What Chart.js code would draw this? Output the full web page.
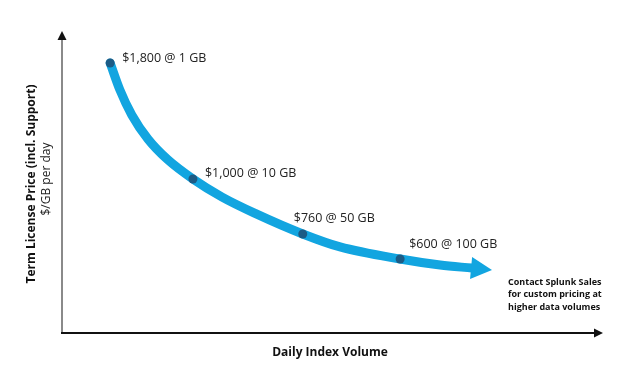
<!DOCTYPE html>
<html>
<head>
<meta charset="utf-8">
<script src="https://cdn.jsdelivr.net/npm/chart.js@4"></script>
<style>
  html, body { margin: 0; padding: 0; background: #fff; }
  #wrap { width: 625px; height: 390px; }
</style>
</head>
<body>
<div id="wrap"><canvas id="priceChart"></canvas></div>
<script>
// price points (labels) and where they sit on the sketch (axis units 0-100)
const prices = ['$1,800', '$1,000', '$760', '$600'];
const volumes = ['1 GB', '10 GB', '50 GB', '100 GB'];
const dotX = [8.9, 24.2, 44.5, 62.5];
const dotY = [89.4, 51.0, 32.8, 24.5];
// the drawn curve, ending at the arrow head
const curveX = [8.9, 10.7, 12.9, 15.9, 19.6, 24.2, 29.6, 35.7, 44.5, 51.4, 62.5, 69.9, 75.8];
const curveY = [89.4, 80.5, 72.2, 64.2, 57.3, 51.0, 45.0, 39.6, 32.8, 28.5, 24.5, 22.5, 21.5];

const labelOffsets = [[12, -5], [12, -6], [-9, -16], [9, -15]];
const FONT = '"Open Sans", sans-serif';

const curve = curveX.map((x, i) => ({ x, y: curveY[i] }));
const dots = dotX.map((x, i) => ({ x, y: dotY[i] }));

const decorations = {
    id: 'decorations',
    afterDatasetsDraw(chart) {
        const { ctx, chartArea: a, scales: { x, y } } = chart;
        ctx.save();

        // arrow head at end of curve
        const p1 = curve[curve.length - 2], p2 = curve[curve.length - 1];
        const bx = x.getPixelForValue(p2.x), by = y.getPixelForValue(p2.y);
        const ang = Math.atan2(by - y.getPixelForValue(p1.y), bx - x.getPixelForValue(p1.x));
        ctx.translate(bx, by);
        ctx.rotate(ang);
        ctx.fillStyle = '#12a5e0';
        ctx.beginPath();
        ctx.moveTo(20, 0);
        ctx.lineTo(-1, -11);
        ctx.lineTo(-1, 11);
        ctx.closePath();
        ctx.fill();
        ctx.setTransform(1, 0, 0, 1, 0, 0);

        // dots on top of the arrow body
        ctx.fillStyle = '#1c5b85';
        dots.forEach(d => {
            ctx.beginPath();
            ctx.arc(x.getPixelForValue(d.x), y.getPixelForValue(d.y), 4.5, 0, Math.PI * 2);
            ctx.fill();
        });

        // point labels
        ctx.fillStyle = '#222';
        ctx.font = '12.5px ' + FONT;
        ctx.textBaseline = 'middle';
        ctx.textAlign = 'left';
        dots.forEach((d, i) => {
            ctx.fillText(prices[i] + ' @ ' + volumes[i],
                x.getPixelForValue(d.x) + labelOffsets[i][0],
                y.getPixelForValue(d.y) + labelOffsets[i][1]);
        });

        // axes
        ctx.lineWidth = 2;
        ctx.strokeStyle = '#8a8a8a';
        ctx.beginPath();
        ctx.moveTo(a.left, a.bottom + 1);
        ctx.lineTo(a.left, a.top + 6);
        ctx.stroke();
        ctx.strokeStyle = '#111';
        ctx.beginPath();
        ctx.moveTo(a.left - 1, a.bottom);
        ctx.lineTo(a.right - 6, a.bottom);
        ctx.stroke();
        ctx.fillStyle = '#111';
        ctx.beginPath();
        ctx.moveTo(a.left, a.top);
        ctx.lineTo(a.left - 4.5, a.top + 9);
        ctx.lineTo(a.left + 4.5, a.top + 9);
        ctx.closePath();
        ctx.fill();
        ctx.beginPath();
        ctx.moveTo(a.right, a.bottom);
        ctx.lineTo(a.right - 9, a.bottom - 4.5);
        ctx.lineTo(a.right - 9, a.bottom + 4.5);
        ctx.closePath();
        ctx.fill();

        // axis titles
        ctx.textAlign = 'center';
        ctx.fillStyle = '#111';
        ctx.font = 'bold 12px ' + FONT;
        ctx.fillText('Daily Index Volume', 330, 353);
        ctx.save();
        ctx.translate(32, 184);
        ctx.rotate(-Math.PI / 2);
        ctx.fillText('Term License Price (incl. Support)', 0, 0);
        ctx.font = '12px ' + FONT;
        ctx.fillStyle = '#222';
        ctx.fillText('$/GB per day', 5, 15);
        ctx.restore();

        // note at the right
        ctx.textAlign = 'left';
        ctx.font = 'bold 9px ' + FONT;
        ctx.fillStyle = '#111';
        ['Contact Splunk Sales', 'for custom pricing at', 'higher data volumes']
            .forEach((t, i) => ctx.fillText(t, 508, 282 + i * 12.5));

        ctx.restore();
    }
};

new Chart(document.getElementById('priceChart'), {
    type: 'line',
    data: {
        datasets: [{
            data: curve,
            borderColor: '#12a5e0',
            borderWidth: 9,
            borderCapStyle: 'round',
            cubicInterpolationMode: 'monotone',
            pointRadius: 0,
            fill: false
        }]
    },
    options: {
        responsive: true,
        maintainAspectRatio: false,
        animation: false,
        layout: { padding: { left: 62, right: 22, top: 31, bottom: 57 } },
        plugins: { legend: { display: false }, tooltip: { enabled: false } },
        scales: {
            x: { type: 'linear', min: 0, max: 100, display: false },
            y: { type: 'linear', min: 0, max: 100, display: false }
        }
    },
    plugins: [decorations]
});
</script>
</body>
</html>
